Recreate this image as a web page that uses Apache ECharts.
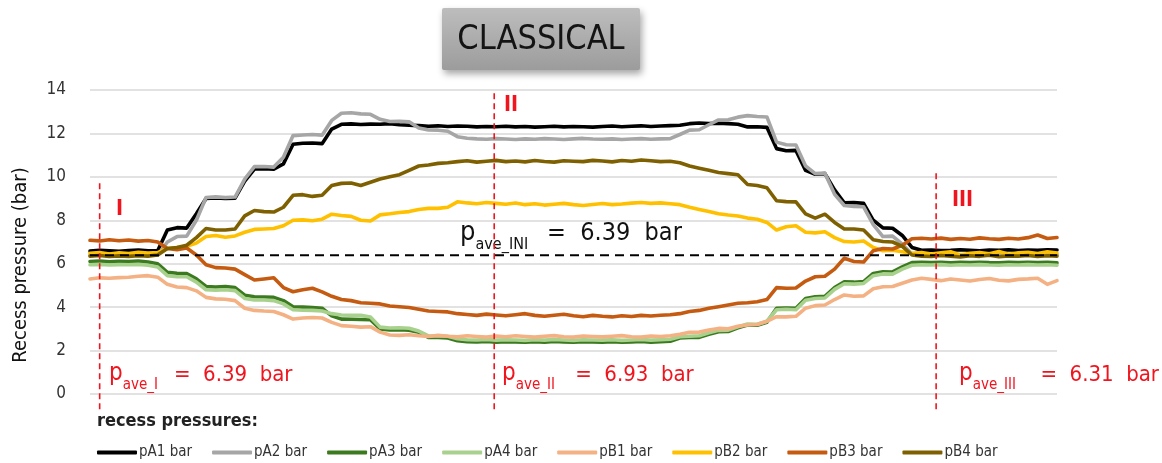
<!DOCTYPE html>
<html>
<head>
<meta charset="utf-8">
<script src="https://cdn.jsdelivr.net/npm/echarts@6/dist/echarts.min.js"></script>
<style>
  html, body { margin: 0; padding: 0; background: #ffffff; }
  #chart { width: 1162px; height: 463px; }
</style>
</head>
<body>
<div id="chart"></div>
<script>
// Recess pressures of the eight pads during the "classical" test run (bar)
const pA1 = [6.58,6.62,6.60,6.57,6.61,6.63,6.59,6.60,
  7.55,7.66,7.64,8.30,9.00,9.03,9.01,9.02,
  9.80,10.36,10.38,10.35,10.60,11.50,11.55,11.56,11.53,
  12.20,12.42,12.44,12.41,12.43,12.42,12.45,12.40,12.38,
  12.36,12.33,12.35,12.32,12.34,12.33,12.30,12.32,12.31,12.33,
  12.30,12.32,12.29,12.31,12.33,12.30,12.32,12.31,12.29,12.32,
  12.34,12.31,12.33,12.35,12.32,12.34,12.36,12.38,
  12.45,12.48,12.46,12.47,12.45,12.42,12.30,12.31,12.28,
  11.30,11.20,11.22,10.30,10.12,10.15,9.40,8.80,8.82,8.78,
  8.00,7.65,7.63,7.30,6.75,6.62,
  6.63,6.61,6.62,6.64,6.62,6.60,6.63,6.62,6.64,6.61,6.63,6.62,6.64,6.63];

const pA2 = [6.38,6.40,6.37,6.39,6.41,6.38,6.40,6.39,
  7.00,7.25,7.27,8.00,9.05,9.08,9.05,9.07,
  9.90,10.47,10.48,10.45,10.90,11.90,11.93,11.95,11.92,
  12.60,12.93,12.95,12.90,12.88,12.65,12.55,12.56,12.54,
  12.25,12.16,12.15,12.10,11.85,11.78,11.75,11.73,11.76,11.74,
  11.72,11.75,11.73,11.76,11.74,11.72,11.75,11.77,11.74,11.73,
  11.75,11.72,11.74,11.76,11.73,11.75,11.76,11.95,
  12.15,12.17,12.40,12.62,12.63,12.75,12.82,12.78,12.76,
  11.60,11.48,11.47,10.50,10.15,10.17,9.20,8.68,8.64,8.62,
  7.80,7.25,7.27,6.90,6.45,6.42,
  6.41,6.43,6.40,6.42,6.41,6.43,6.40,6.42,6.41,6.43,6.42,6.40,6.42,6.41];

const pA3 = [6.10,6.12,6.09,6.11,6.10,6.12,6.08,6.00,
  5.60,5.56,5.55,5.30,4.95,4.93,4.95,4.90,
  4.55,4.48,4.47,4.45,4.30,4.02,4.00,3.98,3.95,
  3.60,3.45,3.44,3.43,3.42,3.00,2.95,2.96,2.94,
  2.85,2.60,2.60,2.58,2.45,2.41,2.40,2.42,2.39,2.41,
  2.40,2.38,2.41,2.39,2.42,2.40,2.38,2.41,2.40,2.39,
  2.41,2.38,2.40,2.42,2.39,2.41,2.43,2.58,
  2.60,2.61,2.75,2.87,2.88,3.05,3.18,3.17,3.30,
  3.95,3.96,3.95,4.40,4.48,4.50,4.90,5.17,5.15,5.18,
  5.55,5.63,5.62,5.85,6.05,6.06,
  6.05,6.07,6.04,6.06,6.05,6.07,6.05,6.04,6.06,6.05,6.07,6.05,6.06,6.04];

const pA4 = [5.95,5.97,5.94,5.96,5.95,5.97,5.93,5.85,
  5.45,5.40,5.40,5.15,4.80,4.78,4.80,4.76,
  4.40,4.33,4.33,4.30,4.15,3.88,3.86,3.85,3.82,
  3.70,3.64,3.63,3.62,3.55,3.08,3.04,3.05,3.03,
  2.90,2.68,2.67,2.66,2.55,2.50,2.49,2.51,2.48,2.50,
  2.49,2.47,2.50,2.48,2.51,2.49,2.47,2.50,2.49,2.48,
  2.50,2.47,2.49,2.51,2.48,2.50,2.52,2.64,
  2.66,2.68,2.82,2.93,2.94,3.10,3.22,3.21,3.35,
  3.88,3.90,3.88,4.32,4.40,4.42,4.82,5.08,5.06,5.09,
  5.45,5.53,5.52,5.75,5.93,5.95,
  5.94,5.96,5.93,5.95,5.94,5.96,5.94,5.93,5.95,5.94,5.96,5.94,5.95,5.93];

const pB1 = [5.30,5.35,5.33,5.36,5.38,5.42,5.45,5.38,
  5.05,4.93,4.90,4.75,4.45,4.38,4.36,4.30,
  3.95,3.85,3.82,3.80,3.65,3.45,3.50,3.52,3.50,
  3.30,3.15,3.12,3.08,3.10,2.85,2.72,2.70,2.73,
  2.68,2.65,2.70,2.66,2.63,2.68,2.65,2.62,2.67,2.64,
  2.68,2.65,2.62,2.66,2.69,2.64,2.62,2.67,2.65,2.63,
  2.66,2.69,2.64,2.62,2.67,2.65,2.68,2.75,
  2.84,2.85,2.95,3.02,3.00,3.12,3.18,3.20,3.35,
  3.56,3.55,3.58,3.95,4.07,4.10,4.35,4.56,4.50,4.52,
  4.85,4.94,4.95,5.10,5.25,5.33,
  5.28,5.22,5.30,5.25,5.20,5.27,5.32,5.24,5.21,5.28,5.30,5.33,5.05,5.22];

const pB2 = [6.48,6.52,6.45,6.50,6.47,6.53,6.49,6.51,
  6.70,6.75,6.80,6.95,7.25,7.30,7.22,7.28,
  7.45,7.58,7.60,7.62,7.75,8.00,8.02,7.98,8.05,
  8.28,8.22,8.18,8.00,7.97,8.25,8.30,8.36,8.40,
  8.50,8.55,8.55,8.60,8.85,8.80,8.76,8.82,8.78,8.74,
  8.80,8.72,8.76,8.70,8.74,8.78,8.72,8.68,8.73,8.77,
  8.72,8.75,8.79,8.82,8.78,8.80,8.76,8.72,
  8.60,8.50,8.40,8.30,8.24,8.20,8.10,8.05,7.90,
  7.55,7.70,7.75,7.45,7.42,7.47,7.20,7.02,7.00,7.05,
  6.75,6.60,6.62,6.55,6.48,6.52,
  6.45,6.50,6.55,6.40,6.48,6.52,6.46,6.56,6.44,6.50,6.53,6.47,6.55,6.49];

const pB3 = [7.08,7.05,7.10,7.06,7.09,7.04,7.07,7.00,
  6.70,6.65,6.72,6.40,5.95,5.82,5.80,5.75,
  5.50,5.25,5.30,5.35,4.90,4.71,4.80,4.87,4.70,
  4.50,4.35,4.30,4.20,4.18,4.15,4.05,4.02,3.98,
  3.90,3.82,3.80,3.78,3.70,3.66,3.62,3.68,3.64,3.60,
  3.65,3.70,3.62,3.58,3.63,3.67,3.60,3.56,3.62,3.58,
  3.55,3.60,3.57,3.62,3.59,3.63,3.65,3.70,
  3.80,3.85,3.95,4.02,4.10,4.18,4.20,4.25,4.35,
  4.90,4.87,4.88,5.20,5.40,5.42,5.75,6.25,6.10,6.08,
  6.60,6.70,6.68,6.85,7.15,7.17,
  7.14,7.18,7.12,7.16,7.13,7.19,7.15,7.12,7.17,7.14,7.20,7.32,7.16,7.21];

const pB4 = [6.35,6.38,6.33,6.36,6.34,6.37,6.35,6.40,
  6.70,6.75,6.85,7.20,7.62,7.55,7.55,7.60,
  8.20,8.45,8.40,8.38,8.60,9.15,9.18,9.10,9.15,
  9.60,9.70,9.72,9.60,9.75,9.90,10.00,10.10,10.30,
  10.50,10.55,10.62,10.65,10.70,10.74,10.68,10.72,10.76,10.70,
  10.73,10.69,10.75,10.71,10.68,10.74,10.72,10.70,10.76,10.73,
  10.69,10.75,10.72,10.78,10.74,10.70,10.72,10.65,
  10.50,10.40,10.30,10.20,10.15,10.10,9.65,9.60,9.50,
  8.90,8.86,8.85,8.30,8.10,8.28,7.90,7.60,7.60,7.55,
  7.10,7.02,7.00,6.80,6.40,6.35,
  6.33,6.38,6.35,6.31,6.37,6.34,6.39,6.32,6.36,6.35,6.38,6.33,6.37,6.35];

const seriesNames = ['pA1 bar','pA2 bar','pA3 bar','pA4 bar','pB1 bar','pB2 bar','pB3 bar','pB4 bar'];
const seriesValues = [pA1, pA2, pA3, pA4, pB1, pB2, pB3, pB4];
const seriesColors = ['#000000','#a6a6a6','#3b7a1f','#a9d18e','#f4b183','#ffc000','#c55a11','#7f6000'];

// Initial average pressure and the three phase markers (sample index, top of the marker in bar)
const pAveIni = 6.39;
const phaseAt = [1.0, 41.8, 87.5];
const phaseTop = [9.8, 13.9, 10.2];
const phaseAve = ['6.39', '6.93', '6.31'];
const yTicks = [0, 2, 4, 6, 8, 10, 12, 14];

const FONT = '"DejaVu Sans Condensed", "DejaVu Sans", sans-serif';
const RED = '#f0141e';

const chart = echarts.init(document.getElementById('chart'), null, { renderer: 'canvas' });

const sampleIndex = pA1.map((_, i) => i);

const lineSeries = seriesNames.map((name, k) => ({
  name: name,
  type: 'line',
  data: sampleIndex.map((t, i) => [t, seriesValues[k][i]]),
  showSymbol: false,
  symbol: 'none',
  smooth: false,
  lineStyle: { color: seriesColors[k], width: 3.6, join: 'round', cap: 'round' },
  itemStyle: { color: seriesColors[k] },
  emphasis: { disabled: true },
  animation: false
}));

const iniLine = {
  name: 'pave_INI',
  type: 'line',
  data: [[0, pAveIni], [100, pAveIni]],
  symbol: 'none',
  lineStyle: { color: '#000000', width: 1.8, type: [9, 6] },
  emphasis: { disabled: true },
  animation: false,
  z: 5
};

const phaseLines = phaseAt.map((x, k) => ({
  name: 'phase' + (k + 1),
  type: 'line',
  data: [[x, -0.7], [x, phaseTop[k]]],
  symbol: 'none',
  clip: false,
  lineStyle: { color: RED, width: 1.6, type: [6, 4] },
  emphasis: { disabled: true },
  animation: false,
  z: 6
}));

function aveLabel(x, yBase, sub, value, color, big, small) {
  return {
    type: 'group',
    children: [
      { type: 'text', x: x, y: yBase,
        style: { text: 'p', font: big + 2 + 'px ' + FONT, fill: color, verticalAlign: 'bottom' } },
      { type: 'text', x: x + big * 0.62, y: yBase + 7,
        style: { text: 'ave_' + sub, font: small + 'px ' + FONT, fill: color, verticalAlign: 'bottom' } },
      { type: 'text', x: x + big * 0.62 + small * (0.55 * (4 + sub.length)) + 10, y: yBase,
        style: { text: '=  ' + value + '  bar', font: big + 'px ' + FONT, fill: color, verticalAlign: 'bottom' } }
    ]
  };
}

const option = {
  backgroundColor: '#ffffff',
  animation: false,
  grid: { left: 90, right: 105, top: 90, bottom: 69, containLabel: false },
  xAxis: {
    type: 'value', min: 0, max: 100,
    axisLine: { show: false }, axisTick: { show: false },
    axisLabel: { show: false }, splitLine: { show: false }
  },
  yAxis: {
    type: 'value', min: 0, max: 14, interval: 2,
    axisLine: { show: false }, axisTick: { show: false },
    axisLabel: {
      margin: 24, color: '#333333', fontSize: 17, fontFamily: FONT,
      formatter: v => (yTicks.indexOf(v) >= 0 ? String(v) : '')
    },
    splitLine: { show: true, lineStyle: { color: '#d9d9d9', width: 1.6 } }
  },
  legend: {
    data: seriesNames,
    left: 97, top: 445, padding: 0,
    itemWidth: 40, itemHeight: 4, itemGap: 20,
    icon: 'roundRect',
    textStyle: { fontSize: 15, color: '#333333', fontFamily: FONT, padding: [0, 0, 0, -3] },
    selectedMode: false
  },
  series: lineSeries.concat([iniLine]).concat(phaseLines),
  graphic: [
    { type: 'rect', shape: { x: 442, y: 8, width: 198, height: 62, r: 2 },
      style: {
        fill: new echarts.graphic.LinearGradient(0, 0, 0, 1, [
          { offset: 0, color: '#bdbdbd' }, { offset: 1, color: '#9c9c9c' }
        ]),
        shadowBlur: 7, shadowOffsetX: 2, shadowOffsetY: 4, shadowColor: 'rgba(0,0,0,0.35)'
      }, z: 10 },
    { type: 'text', x: 541, y: 40, z: 11,
      style: { text: 'CLASSICAL', font: '34px ' + FONT, fill: '#141414', align: 'center', verticalAlign: 'middle' } },
    { type: 'text', x: 21, y: 265, rotation: Math.PI / 2,
      style: { text: 'Recess pressure (bar)', font: '20px ' + FONT, fill: '#111111', align: 'center', verticalAlign: 'middle' } },
    { type: 'text', x: 97, y: 421,
      style: { text: 'recess pressures:', font: '600 18px ' + FONT, fill: '#222222', verticalAlign: 'middle' } },
    { type: 'text', x: 116, y: 210,
      style: { text: 'I', font: 'bold 21px ' + FONT, fill: RED, verticalAlign: 'middle' } },
    { type: 'text', x: 504, y: 106,
      style: { text: 'II', font: 'bold 21px ' + FONT, fill: RED, verticalAlign: 'middle' } },
    { type: 'text', x: 952, y: 201,
      style: { text: 'III', font: 'bold 21px ' + FONT, fill: RED, verticalAlign: 'middle' } },
    aveLabel(109, 386, 'I', phaseAve[0], RED, 22, 15),
    aveLabel(502, 386, 'II', phaseAve[1], RED, 22, 15),
    aveLabel(959, 386, 'III', phaseAve[2], RED, 22, 15),
    aveLabel(460, 246, 'INI', String(pAveIni), '#111111', 25, 16)
  ]
};

chart.setOption(option);
</script>
</body>
</html>
